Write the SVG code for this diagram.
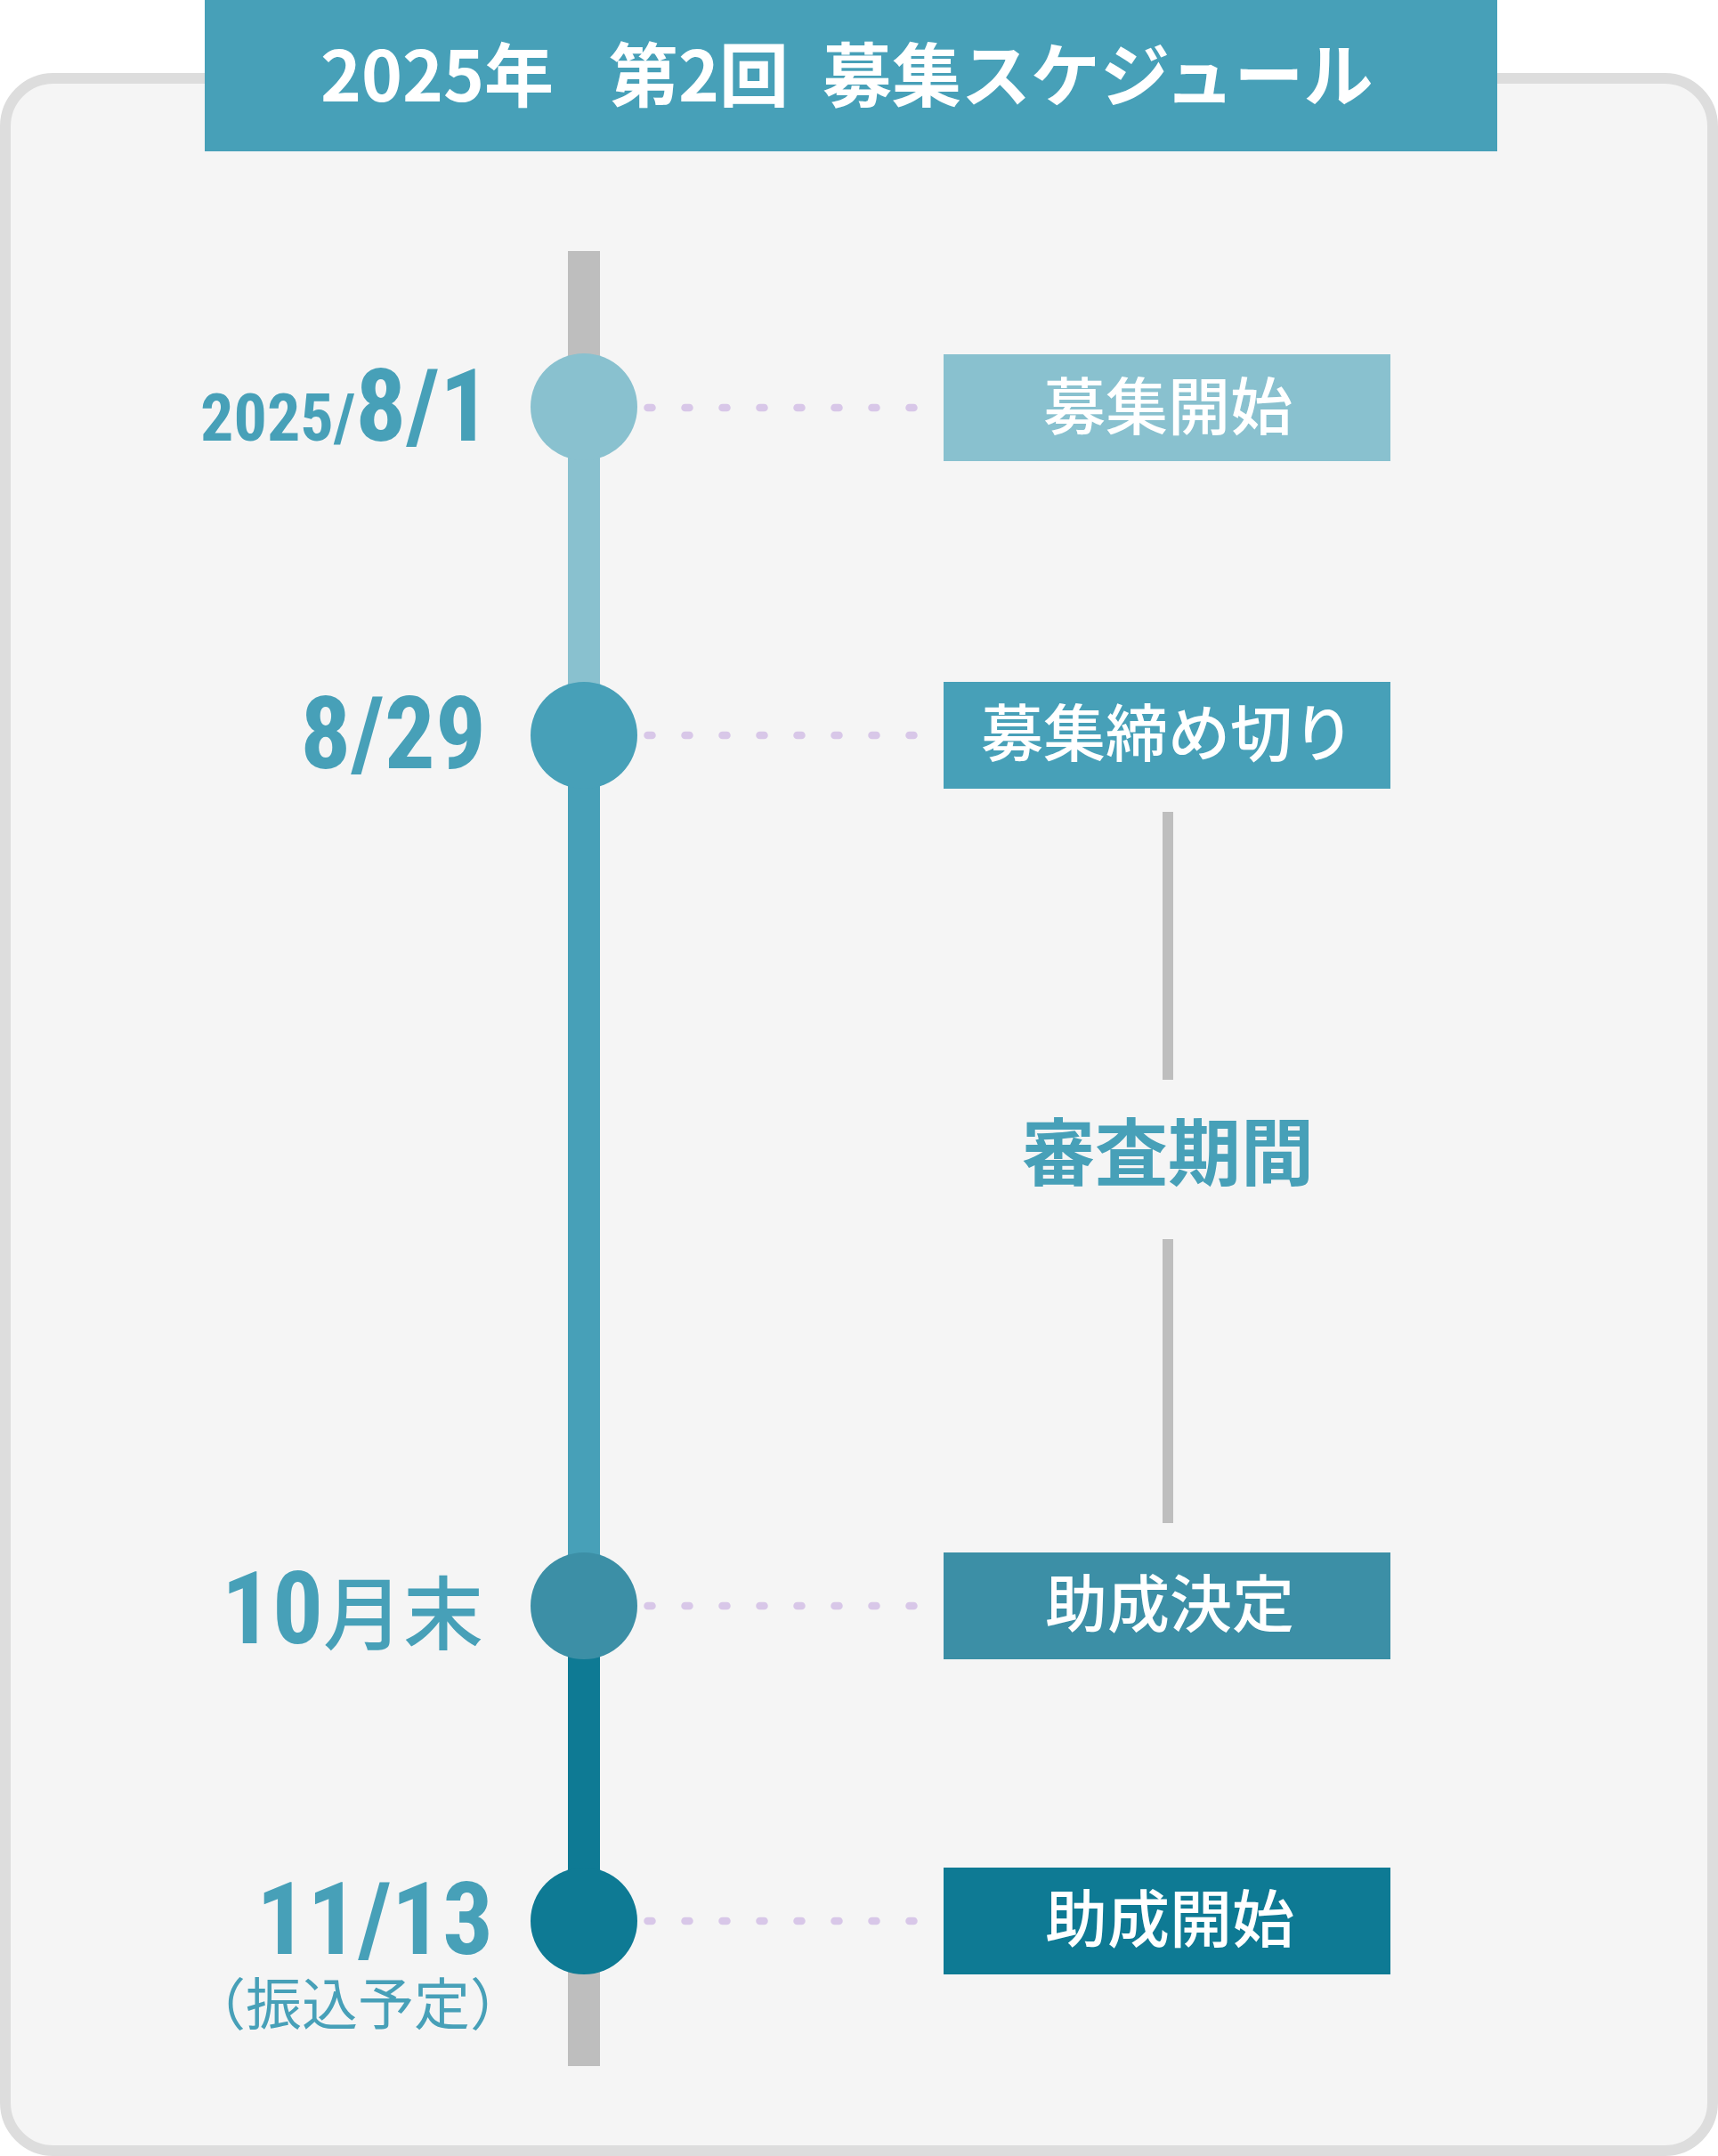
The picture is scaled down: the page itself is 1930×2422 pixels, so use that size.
<svg xmlns="http://www.w3.org/2000/svg" width="1930" height="2422" viewBox="0 0 1930 2422">
<style>
.cjk{font-family:"Noto Sans CJK JP","Noto Sans CJK SC",sans-serif;}
.date{font-family:"Liberation Sans Narrow","Roboto Condensed","DejaVu Sans Condensed","Noto Sans CJK JP",sans-serif;font-weight:bold;fill:#47A0B8;}
.lbl{font-family:"Noto Sans CJK JP","Noto Sans CJK SC",sans-serif;font-size:70px;font-weight:500;fill:#FFFFFF;text-anchor:middle;}
.dots{stroke:#D8C7E8;stroke-width:8.5;stroke-dasharray:5 37;stroke-linecap:round;fill:none;}
.gline{stroke:#BEBEBE;stroke-width:12;fill:none;}
</style>
<g id="panel">
<rect x="6" y="88" width="1918" height="2328" rx="54" ry="54" fill="#F5F5F5" stroke="#DDDDDD" stroke-width="12"/>
</g>
<g id="header">
<rect x="230" y="0" width="1452" height="170" fill="#47A0B8"/>
<text class="cjk" y="114" font-size="78" font-weight="bold" fill="#FFFFFF"><tspan x="360">2025年 </tspan><tspan x="684">第2回 </tspan><tspan x="924">募集スケジュール</tspan></text>
</g>
<g id="timeline">
<rect x="638" y="282" width="36" height="176" fill="#BEBEBE"/>
<rect x="638" y="457" width="36" height="370" fill="#89C1CF"/>
<rect x="638" y="826" width="36" height="979" fill="#47A0B8"/>
<rect x="638" y="1804" width="36" height="355" fill="#0E7A94"/>
<rect x="638" y="2158" width="36" height="163" fill="#BEBEBE"/>
</g>
<g id="connectors">
<line class="dots" x1="727.5" y1="458" x2="1027" y2="458"/>
<line class="dots" x1="727.5" y1="826" x2="1027" y2="826"/>
<line class="dots" x1="727.5" y1="1804" x2="1027" y2="1804"/>
<line class="dots" x1="727.5" y1="2158" x2="1027" y2="2158"/>
<line class="gline" x1="1312" y1="912" x2="1312" y2="1213"/>
<line class="gline" x1="1312" y1="1392" x2="1312" y2="1711"/>
</g>
<g id="m1">
<circle cx="656" cy="457" r="60" fill="#89C1CF"/>
<text class="date" x="551" y="495" text-anchor="end"><tspan font-size="74">2025/</tspan><tspan font-size="113">8/1</tspan></text>
<rect x="1060" y="398" width="502" height="120" fill="#89C1CF"/>
<text class="lbl" x="1312" y="483">募集開始</text>
</g>
<g id="m2">
<circle cx="656" cy="826" r="60" fill="#47A0B8"/>
<text class="date" x="546" y="863" text-anchor="end" font-size="113">8/29</text>
<rect x="1060" y="766" width="502" height="120" fill="#47A0B8"/>
<text class="lbl" x="1312" y="850">募集締め切り</text>
</g>
<g id="review">
<text class="cjk" x="1312" y="1325" font-size="82" font-weight="bold" fill="#47A0B8" text-anchor="middle">審査期間</text>
</g>
<g id="m3">
<circle cx="656" cy="1804" r="60" fill="#3C8FA6"/>
<text class="date" x="543" y="1846" text-anchor="end"><tspan font-size="113">10</tspan><tspan class="cjk" font-size="90" font-weight="500">月末</tspan></text>
<rect x="1060" y="1744" width="502" height="120" fill="#3C8FA6"/>
<text class="lbl" x="1314" y="1828">助成決定</text>
</g>
<g id="m4">
<circle cx="656" cy="2158" r="60" fill="#0E7A94"/>
<text class="date" x="554" y="2195" text-anchor="end" font-size="113">11/13</text>
<text class="cjk" x="402" y="2274" font-size="63" fill="#47A0B8" text-anchor="middle">（振込予定）</text>
<rect x="1060" y="2098" width="502" height="120" fill="#0E7A94"/>
<text class="lbl" x="1314" y="2182">助成開始</text>
</g>
</svg>
